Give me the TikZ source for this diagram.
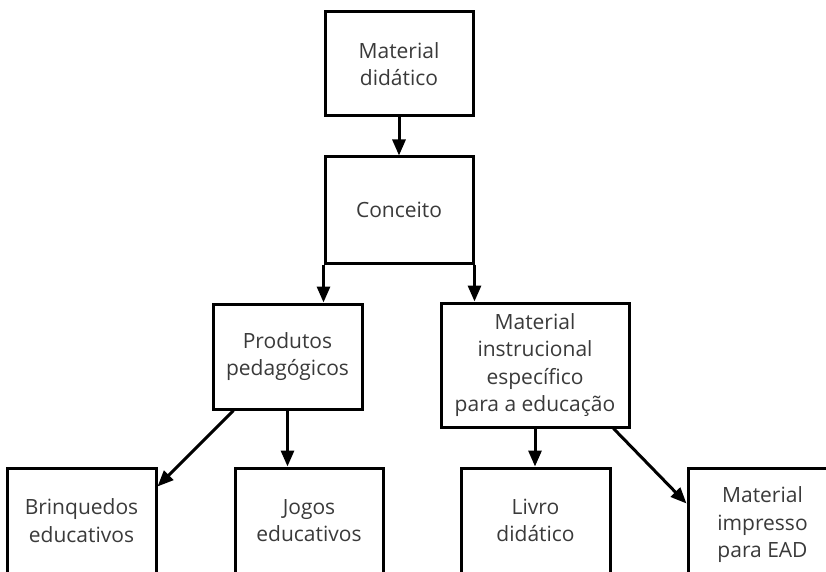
\documentclass[tikz,border=0pt]{standalone}
\usepackage{fontspec}
\setmainfont{Open Sans}
\usetikzlibrary{arrows.meta,calc}
\definecolor{txt}{HTML}{3A3A3A}
\begin{document}
\begin{tikzpicture}[x=1pt,y=-1pt,
  box/.style={draw=black,line width=3pt,fill=white,inner sep=0pt,
    text=txt,align=center,font=\fontsize{21}{27.5}\selectfont},
  link/.style={draw=black,line width=3pt,-{Triangle[length=16pt,width=13pt]}}]
  \fill[white] (0,0) rectangle (826,572);
  \clip (0,0) rectangle (826,572);

  % top levels
  \node[box,minimum width=148pt,minimum height=104pt] (md) at (399,64) {Material\\didático};
  \node[box,minimum width=148pt,minimum height=106pt] (conc) at (399,210) {Conceito};

  % second level
  \node[box,minimum width=149pt,minimum height=105pt] (prod) at (287.5,356.5) {Produtos\\pedagógicos};
  \node[box,minimum width=188pt,minimum height=124pt] (instr) at (535,365) {Material\\instrucional\\específico\\para a educação};

  % bottom level (runs past the page edge)
  \node[box,minimum width=149pt,minimum height=105pt] (brinq) at (81.5,520.5) {Brinquedos\\educativos};
  \node[box,minimum width=148pt,minimum height=105pt] (jogos) at (309,520.5) {Jogos\\educativos};
  \node[box,minimum width=149pt,minimum height=105pt] (livro) at (535.5,520.5) {Livro\\didático};
  \node[box,minimum width=149pt,minimum height=114pt] (impr) at (762.5,525) {Material\\impresso\\para EAD};

  % connectors
  \draw[link] (md.south) -- (conc.north);
  \draw[link] (conc.south west) -- (conc.south west |- prod.north);
  \draw[link] (conc.south east) -- (conc.south east |- instr.north);
  \draw[link] ($(prod.south west)+(22,0)$) -- ($(brinq.north east)+(0,20)$);
  \draw[link] (prod.south) -- (prod.south |- jogos.north);
  \draw[link] (instr.south) -- (instr.south |- livro.north);
  \draw[link] ($(instr.south east)+(-17,0)$) -- ($(impr.north west)+(0,37)$);
\end{tikzpicture}
\end{document}
